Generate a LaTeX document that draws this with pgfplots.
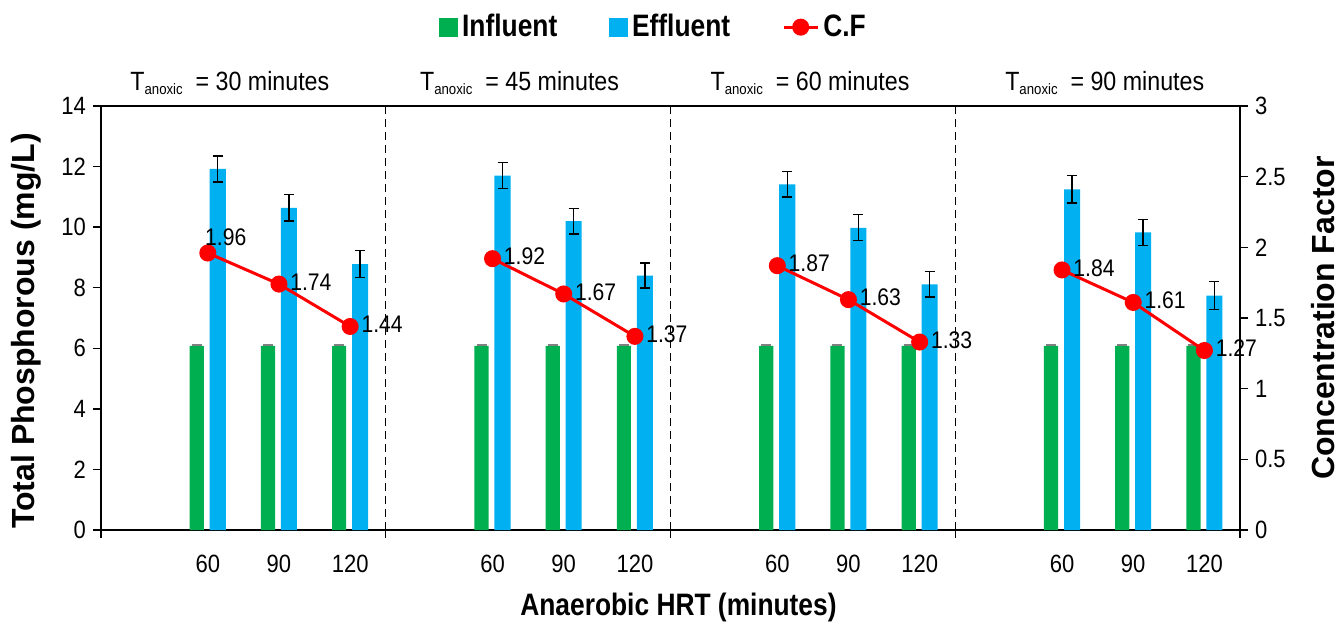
\documentclass[border=0pt]{standalone}
\usepackage{fontspec}
\setmainfont{Liberation Sans}
\newfontfamily\nf[FakeStretch=0.88]{Liberation Sans}
\newfontfamily\nfl[FakeStretch=0.85]{Liberation Sans}
\usepackage{pgfplots}
\pgfplotsset{compat=1.18}
\definecolor{infl}{HTML}{00B050}
\definecolor{effl}{HTML}{00B0F0}
\definecolor{cfred}{HTML}{FF0000}
\newcommand{\tickfont}{\nf\fontsize{12.5}{12.5}\selectfont}
\newcommand{\titfont}{\nf\fontsize{13.2}{13.2}\selectfont}
\newcommand{\labfont}{\nfl\bfseries\fontsize{15.5}{15.5}\selectfont}
\newcommand{\Tan}[1]{T{\fontsize{7.5}{7.5}\selectfont\raisebox{-2pt}{anoxic}}\ \ = #1 minutes}
\begin{document}
\begin{tikzpicture}
\begin{axis}[
  scale only axis, width=569.5pt, height=212pt,
  xmin=0, xmax=16, ymin=0, ymax=14,
  xtick={0,4,8,12,16}, xticklabels={},
  extra x ticks={1.5,2.5,3.5,5.5,6.5,7.5,9.5,10.5,11.5,13.5,14.5,15.5},
  extra x tick labels={60,90,120,60,90,120,60,90,120,60,90,120},
  extra x tick style={major tick length=0pt, tick style={draw=none}},
  xticklabel style={font=\tickfont, yshift=-9pt},
  ytick={0,2,...,14},
  yticklabel style={font=\tickfont, /pgf/number format/assume math mode=true},
  ytick pos=left, xtick pos=bottom,
  tick align=outside, major tick length=4pt,
  tick style={black, line width=0.7pt},
  axis line style={line width=0.8pt},
  ylabel={Total Phosphorous (mg/L)},
  every axis y label/.style={at={(axis description cs:0,0.5)}, xshift=-33pt, yshift=-6.5pt, rotate=90, anchor=base, font=\bfseries\fontsize{16}{16}\selectfont},
  xlabel={Anaerobic HRT (minutes)},
  every axis x label/.style={at={(axis description cs:0.507,0)}, anchor=center, yshift=-38.5pt, font=\labfont},
  legend style={at={(axis description cs:0.486,1.186)}, anchor=center, draw=none, fill=none,
     legend columns=3, font=\labfont, inner sep=0pt,
     /tikz/every even column/.append style={column sep=24pt}},
  legend cell align=left,
  clip=false,
]
\addlegendimage{legend image code/.code={\fill[infl] (0pt,-4.5pt) rectangle (9pt,4.5pt);}}
\addlegendentry{Influent}
\addlegendimage{legend image code/.code={\fill[effl] (0pt,-4.5pt) rectangle (9pt,4.5pt);}}
\addlegendentry{Effluent}
\addlegendimage{cfred, line width=1.5pt, mark=*, mark size=3.5pt, mark options={fill=cfred}}
\addlegendentry{C.F}

% Influent bars
\addplot[ybar, bar width=0.2, bar shift=-0.155, fill=infl, draw=none, forget plot]
  coordinates {
  (1.5,6.08) (2.5,6.08) (3.5,6.08)
  (5.5,6.08) (6.5,6.08) (7.5,6.08)
  (9.5,6.08) (10.5,6.08) (11.5,6.08)
  (13.5,6.08) (14.5,6.08) (15.5,6.08)};
% Influent error (tiny), at the bar centres
\addplot[draw=none, mark=none, forget plot,
  error bars/.cd, y dir=plus, y explicit, error bar style={gray, line width=0.6pt},
  error mark options={rotate=90, gray, mark size=2.5pt, line width=0.6pt}]
  coordinates {
  (1.345,6.08) +- (0,0.03) (2.345,6.08) +- (0,0.03) (3.345,6.08) +- (0,0.03)
  (5.345,6.08) +- (0,0.03) (6.345,6.08) +- (0,0.03) (7.345,6.08) +- (0,0.03)
  (9.345,6.08) +- (0,0.03) (10.345,6.08) +- (0,0.03) (11.345,6.08) +- (0,0.03)
  (13.345,6.08) +- (0,0.03) (14.345,6.08) +- (0,0.03) (15.345,6.08) +- (0,0.03)};
% Effluent bars
\addplot[ybar, bar width=0.225, bar shift=0.14, fill=effl, draw=none, forget plot]
  coordinates {
  (1.5,11.92) (2.5,10.64) (3.5,8.78)
  (5.5,11.70) (6.5,10.20) (7.5,8.40)
  (9.5,11.41) (10.5,9.98) (11.5,8.11)
  (13.5,11.25) (14.5,9.83) (15.5,7.74)};
% Effluent error bars, at the bar centres
\addplot[draw=none, mark=none, forget plot,
  error bars/.cd, y dir=both, y explicit, error bar style={black, line width=0.7pt},
  error mark options={rotate=90, black, mark size=2.5pt, line width=0.7pt}]
  coordinates {
  (1.64,11.92) +- (0,0.43) (2.64,10.64) +- (0,0.44) (3.64,8.78) +- (0,0.44)
  (5.64,11.70) +- (0,0.43) (6.64,10.20) +- (0,0.42) (7.64,8.40) +- (0,0.41)
  (9.64,11.41) +- (0,0.42) (10.64,9.98) +- (0,0.43) (11.64,8.11) +- (0,0.42)
  (13.64,11.25) +- (0,0.45) (14.64,9.83) +- (0,0.43) (15.64,7.74) +- (0,0.46)};
% separators
\addplot[black, dash pattern=on 4pt off 2.5pt, line width=0.7pt, forget plot] coordinates {(4,0) (4,14)};
\addplot[black, dash pattern=on 4pt off 2.5pt, line width=0.7pt, forget plot] coordinates {(8,0) (8,14)};
\addplot[black, dash pattern=on 4pt off 2.5pt, line width=0.7pt, forget plot] coordinates {(12,0) (12,14)};
% group titles
\node[font=\titfont, anchor=base, yshift=8pt] at (axis cs:1.81,14) {\Tan{30}};
\node[font=\titfont, anchor=base, yshift=8pt] at (axis cs:5.88,14) {\Tan{45}};
\node[font=\titfont, anchor=base, yshift=8pt] at (axis cs:9.96,14) {\Tan{60}};
\node[font=\titfont, anchor=base, yshift=8pt] at (axis cs:14.1,14) {\Tan{90}};
\end{axis}
\begin{axis}[
  scale only axis, width=569.5pt, height=212pt,
  xmin=0, xmax=16, ymin=0, ymax=3,
  axis x line=none, axis y line*=right,
  ytick={0,0.5,...,3},
  yticklabel style={font=\tickfont, /pgf/number format/assume math mode=true},
  tick align=outside, major tick length=4pt,
  tick style={black, line width=0.7pt},
  axis line style={line width=0.8pt},
  ylabel={Concentration Factor},
  every axis y label/.style={at={(axis description cs:1,0.5)}, xshift=47pt, rotate=90, anchor=base, font=\bfseries\fontsize{16}{16}\selectfont},
  clip=false,
]
\addplot[cfred, line width=1.5pt, mark=*, mark size=3.5pt, mark options={fill=cfred}] coordinates {(1.5,1.96) (2.5,1.74) (3.5,1.44)};
\addplot[cfred, line width=1.5pt, mark=*, mark size=3.5pt, mark options={fill=cfred}] coordinates {(5.5,1.92) (6.5,1.67) (7.5,1.37)};
\addplot[cfred, line width=1.5pt, mark=*, mark size=3.5pt, mark options={fill=cfred}] coordinates {(9.5,1.87) (10.5,1.63) (11.5,1.33)};
\addplot[cfred, line width=1.5pt, mark=*, mark size=3.5pt, mark options={fill=cfred}] coordinates {(13.5,1.84) (14.5,1.61) (15.5,1.27)};
\addplot[draw=none, mark=none, nodes near coords, point meta=explicit symbolic,
  nodes near coords style={anchor=west, xshift=5.5pt, yshift=1pt, font=\nf\fontsize{12}{12}\selectfont, text=black, inner sep=0pt}]
  coordinates {(2.5,1.74)[1.74] (3.5,1.44)[1.44]
   (5.5,1.92)[1.92] (6.5,1.67)[1.67] (7.5,1.37)[1.37]
   (9.5,1.87)[1.87] (10.5,1.63)[1.63] (11.5,1.33)[1.33]
   (13.5,1.84)[1.84] (14.5,1.61)[1.61] (15.5,1.27)[1.27]};
\addplot[draw=none, mark=none, nodes near coords, point meta=explicit symbolic,
  nodes near coords style={anchor=west, xshift=-1.5pt, yshift=8pt, font=\nf\fontsize{12}{12}\selectfont, text=black, inner sep=0pt}]
  coordinates {(1.5,1.96)[1.96]};
\end{axis}
\pgfresetboundingbox
\path[use as bounding box] (-50.5pt,-49pt) rectangle (618.5pt,265pt);
\end{tikzpicture}
\end{document}
